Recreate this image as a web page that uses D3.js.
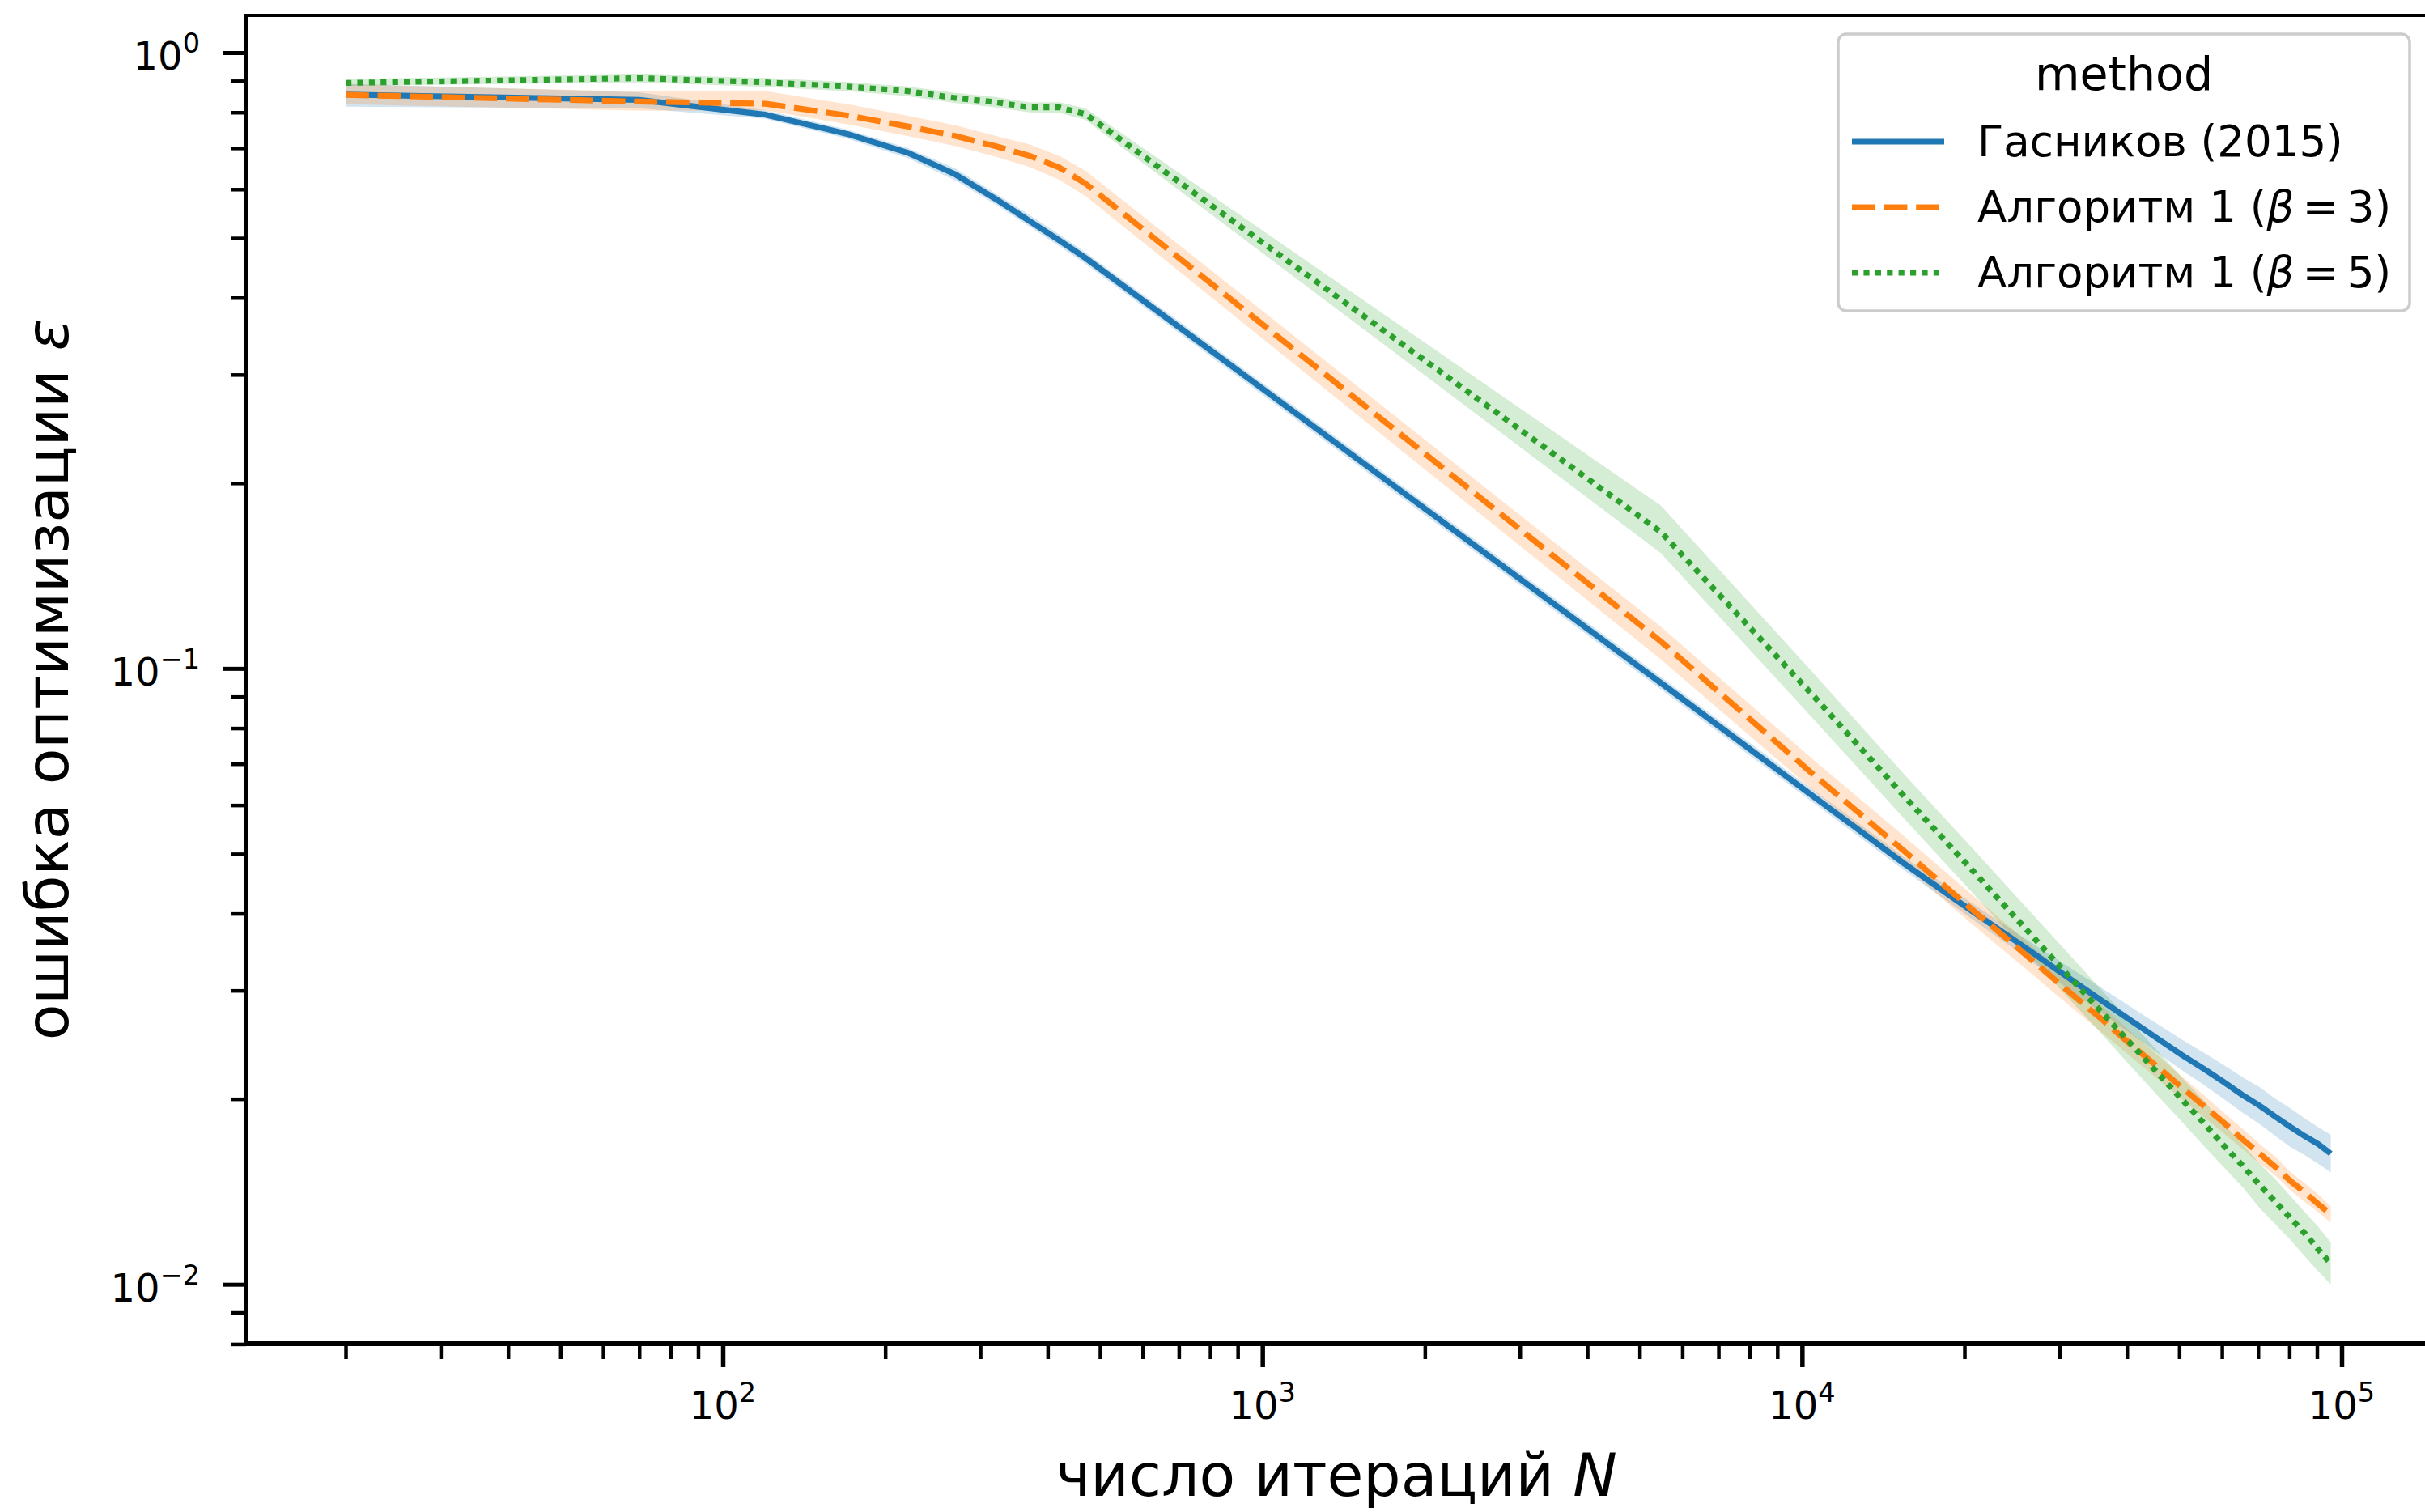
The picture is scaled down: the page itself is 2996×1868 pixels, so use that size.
<!DOCTYPE html>
<html>
<head>
<meta charset="utf-8">
<script src="https://cdnjs.cloudflare.com/ajax/libs/d3/7.8.5/d3.min.js"></script>
<style>
    body { margin: 0; background: #ffffff; }
    text { font-family: "DejaVu Sans", sans-serif; fill: #000000; }
</style>
</head>
<body>
<div id="chart"></div>
<script>
// iterations N (x axis)
var iterations = [20, 70, 120, 170, 220, 270, 320, 370, 420, 470,
    5470, 10470, 15470, 20470, 25470, 30470, 35470, 40470, 45470, 50470,
    55470, 60470, 65470, 70470, 75470, 80470, 85470, 90470, 95470];

// Гасников (2015)
var gasnikovMean = [0.855, 0.838, 0.793, 0.738, 0.688, 0.634, 0.579, 0.533, 0.496, 0.464,
    0.0948, 0.0621, 0.0482, 0.0406, 0.0356, 0.0319, 0.0291, 0.0269, 0.0251, 0.0236,
    0.0224, 0.0213, 0.0203, 0.0195, 0.0187, 0.0180, 0.0174, 0.0169, 0.0163];
var gasnikovLow = [0.817, 0.812, 0.781, 0.725, 0.674, 0.620, 0.567, 0.522, 0.485, 0.454,
    0.0925, 0.0606, 0.0470, 0.0394, 0.0344, 0.0306, 0.0278, 0.0256, 0.0238, 0.0223,
    0.0211, 0.0200, 0.0190, 0.0182, 0.0174, 0.0167, 0.0162, 0.0157, 0.0152];
var gasnikovHigh = [0.890, 0.862, 0.806, 0.750, 0.700, 0.648, 0.591, 0.545, 0.507, 0.474,
    0.0970, 0.0636, 0.0494, 0.0418, 0.0368, 0.0332, 0.0305, 0.0283, 0.0265, 0.0250,
    0.0238, 0.0227, 0.0217, 0.0209, 0.0200, 0.0193, 0.0186, 0.0180, 0.0175];

// Алгоритм 1 (beta = 3)
var beta3Mean = [0.854, 0.833, 0.826, 0.791, 0.759, 0.732, 0.705, 0.680, 0.651, 0.613,
    0.1107, 0.0674, 0.0505, 0.0409, 0.0348, 0.0304, 0.0272, 0.0246, 0.0226, 0.0209,
    0.0195, 0.0183, 0.0172, 0.0163, 0.0155, 0.0147, 0.0141, 0.0135, 0.0130];
var beta3Low = [0.825, 0.805, 0.806, 0.765, 0.732, 0.705, 0.678, 0.652, 0.622, 0.585,
    0.1035, 0.0635, 0.0478, 0.0387, 0.0330, 0.0289, 0.0259, 0.0235, 0.0216, 0.0200,
    0.0187, 0.0176, 0.0166, 0.0157, 0.0150, 0.0142, 0.0136, 0.0131, 0.0126];
var beta3High = [0.888, 0.865, 0.866, 0.825, 0.790, 0.762, 0.733, 0.710, 0.680, 0.643,
    0.1170, 0.0712, 0.0534, 0.0432, 0.0367, 0.0320, 0.0286, 0.0258, 0.0236, 0.0218,
    0.0203, 0.0190, 0.0179, 0.0169, 0.0161, 0.0152, 0.0146, 0.0140, 0.0134];

// Алгоритм 1 (beta = 5)
var beta5Mean = [0.893, 0.909, 0.895, 0.881, 0.866, 0.844, 0.831, 0.815, 0.815, 0.795,
    0.1667, 0.0905, 0.0620, 0.0475, 0.0385, 0.0324, 0.0280, 0.0247, 0.0221, 0.0200,
    0.0183, 0.0168, 0.0156, 0.0145, 0.0136, 0.0128, 0.0121, 0.0114, 0.0108];
var beta5Low = [0.883, 0.895, 0.880, 0.866, 0.850, 0.828, 0.815, 0.800, 0.799, 0.778,
    0.154, 0.0830, 0.0570, 0.0437, 0.0354, 0.0298, 0.0258, 0.0227, 0.0203, 0.0184,
    0.0168, 0.0155, 0.0144, 0.0133, 0.0125, 0.0118, 0.0111, 0.0105, 0.0100];
var beta5High = [0.906, 0.922, 0.910, 0.896, 0.881, 0.860, 0.847, 0.830, 0.831, 0.812,
    0.184, 0.0985, 0.0673, 0.0516, 0.0418, 0.0352, 0.0304, 0.0268, 0.0240, 0.0217,
    0.0199, 0.0182, 0.0169, 0.0157, 0.0148, 0.0139, 0.0131, 0.0124, 0.0117];

var seriesNames = ['Гасников (2015)', 'Алгоритм 1 (β = 3)', 'Алгоритм 1 (β = 5)'];
var seriesColors = ['#1f77b4', '#ff7f0e', '#2ca02c'];
var legendTitle = 'method';

var xTickValues = [1e2, 1e3, 1e4, 1e5];
var xTickExponents = ['2', '3', '4', '5'];
var yTickValues = [1, 0.1, 0.01];
var yTickExponents = ['0', '\u22121', '\u22122'];

var xLabel = 'число итераций ';
var xLabelVar = 'N';
var yLabel = 'ошибка оптимизации ';
var yLabelVar = 'ε';

var width = 2996;
var height = 1868;
var plotLeft = 304, plotTop = 19, plotRight = 2998, plotBottom = 1660;
var lw = 7.2;
var tickFont = 48, labelFont = 73, legendFont = 53, legendTitleFont = 57;

var x = d3.scaleLog().domain([1e2, 1e5]).range([893, 2893]);
var y = d3.scaleLog().domain([1, 0.01]).range([65, 1586.7]);

var series = seriesNames.map(function (name, i) {
    var m = [gasnikovMean, beta3Mean, beta5Mean][i];
    var lo = [gasnikovLow, beta3Low, beta5Low][i];
    var hi = [gasnikovHigh, beta3High, beta5High][i];
    return {
        name: name,
        color: seriesColors[i],
        dash: [null, [4 * lw, 1.5 * lw], [lw, lw]][i],
        values: iterations.map(function (n, j) {
            return {n: n, v: m[j], lo: lo[j], hi: hi[j]};
        })
    };
});

var svg = d3.select('#chart').append('svg')
    .attr('width', width)
    .attr('height', height);

svg.append('defs').append('clipPath')
    .attr('id', 'plotclip')
    .append('rect')
    .attr('x', plotLeft)
    .attr('y', plotTop)
    .attr('width', plotRight - plotLeft)
    .attr('height', plotBottom - plotTop);

var plot = svg.append('g').attr('clip-path', 'url(#plotclip)');

var area = d3.area()
    .x(function (d) { return x(d.n); })
    .y0(function (d) { return y(d.lo); })
    .y1(function (d) { return y(d.hi); });

var line = d3.line()
    .x(function (d) { return x(d.n); })
    .y(function (d) { return y(d.v); });

// bands below lines (like matplotlib zorder)
plot.selectAll('path.band')
    .data(series)
    .enter()
    .append('path')
    .attr('class', 'band')
    .attr('d', function (d) { return area(d.values); })
    .attr('fill', function (d) { return d.color; })
    .attr('fill-opacity', 0.2)
    .attr('stroke', 'none');

plot.selectAll('path.line')
    .data(series)
    .enter()
    .append('path')
    .attr('class', 'line')
    .attr('d', function (d) { return line(d.values); })
    .attr('fill', 'none')
    .attr('stroke', function (d) { return d.color; })
    .attr('stroke-width', lw)
    .attr('stroke-linejoin', 'round')
    .attr('stroke-dasharray', function (d) { return d.dash ? d.dash.join(',') : null; });

// minor ticks from the scales themselves
var xMinor = d3.scaleLog().domain([x.invert(plotLeft), x.invert(plotRight)]).ticks()
    .filter(function (t) { return xTickValues.indexOf(t) < 0; });
var yMinor = d3.scaleLog().domain([y.invert(plotBottom + 1), y.invert(plotTop)]).ticks()
    .filter(function (t) { return yTickValues.indexOf(t) < 0; });

function styleAxis(g, w) {
    g.select('.domain').remove();
    g.selectAll('.tick line').attr('stroke', '#000').attr('stroke-width', w);
    g.selectAll('.tick text').remove();
}

svg.append('g')
    .attr('transform', 'translate(0,' + plotBottom + ')')
    .call(d3.axisBottom(x).tickValues(xTickValues).tickSize(29).tickSizeOuter(0))
    .call(styleAxis, 5.5);
svg.append('g')
    .attr('transform', 'translate(0,' + plotBottom + ')')
    .call(d3.axisBottom(x).tickValues(xMinor).tickSize(19).tickSizeOuter(0))
    .call(styleAxis, 4.5);
svg.append('g')
    .attr('transform', 'translate(' + plotLeft + ',0)')
    .call(d3.axisLeft(y).tickValues(yTickValues).tickSize(29).tickSizeOuter(0))
    .call(styleAxis, 5);
svg.append('g')
    .attr('transform', 'translate(' + plotLeft + ',0)')
    .call(d3.axisLeft(y).tickValues(yMinor).tickSize(19).tickSizeOuter(0))
    .call(styleAxis, 4.5);

// spines
svg.append('line')
    .attr('x1', plotLeft).attr('x2', plotLeft)
    .attr('y1', plotTop - 2).attr('y2', plotBottom + 3)
    .attr('stroke', '#000').attr('stroke-width', 6);
svg.append('line')
    .attr('x1', plotLeft - 3).attr('x2', width)
    .attr('y1', plotBottom).attr('y2', plotBottom)
    .attr('stroke', '#000').attr('stroke-width', 6);
svg.append('line')
    .attr('x1', plotLeft - 3).attr('x2', width)
    .attr('y1', plotTop).attr('y2', plotTop)
    .attr('stroke', '#000').attr('stroke-width', 4);

// tick labels as 10^k
var xLabels = svg.append('g').selectAll('text')
    .data(xTickValues)
    .enter()
    .append('text')
    .attr('x', function (d) { return x(d); })
    .attr('y', 1753)
    .attr('text-anchor', 'middle')
    .style('font-size', tickFont + 'px');
xLabels.append('tspan').text('10');
xLabels.append('tspan')
    .attr('dy', -0.43 * tickFont)
    .style('font-size', (0.7 * tickFont) + 'px')
    .text(function (d, i) { return xTickExponents[i]; });

var yLabels = svg.append('g').selectAll('text')
    .data(yTickValues)
    .enter()
    .append('text')
    .attr('x', 247)
    .attr('y', function (d) { return y(d) + 21; })
    .attr('text-anchor', 'end')
    .style('font-size', tickFont + 'px');
yLabels.append('tspan').text('10');
yLabels.append('tspan')
    .attr('dy', -0.43 * tickFont)
    .style('font-size', (0.7 * tickFont) + 'px')
    .text(function (d, i) { return yTickExponents[i]; });

// axis labels
var xl = svg.append('text')
    .attr('x', (plotLeft + plotRight) / 2)
    .attr('y', 1848)
    .attr('text-anchor', 'middle')
    .style('font-size', labelFont + 'px');
xl.append('tspan').text(xLabel);
xl.append('tspan').style('font-style', 'italic').text(xLabelVar);

var yl = svg.append('text')
    .attr('transform', 'translate(84,' + ((plotTop + plotBottom) / 2) + ') rotate(-90)')
    .attr('text-anchor', 'middle')
    .style('font-size', labelFont + 'px');
yl.append('tspan').text(yLabel);
yl.append('tspan').style('font-style', 'italic').text(yLabelVar);

// legend
var legend = svg.append('g');
legend.append('rect')
    .attr('x', 2271)
    .attr('y', 42)
    .attr('width', 706)
    .attr('height', 342)
    .attr('rx', 10)
    .attr('fill', '#ffffff')
    .attr('fill-opacity', 0.8)
    .attr('stroke', '#cccccc')
    .attr('stroke-width', 3.5);
legend.append('text')
    .attr('x', 2624)
    .attr('y', 111)
    .attr('text-anchor', 'middle')
    .style('font-size', legendTitleFont + 'px')
    .text(legendTitle);

var rows = legend.selectAll('g.row')
    .data(series)
    .enter()
    .append('g')
    .attr('class', 'row')
    .attr('transform', function (d, i) { return 'translate(0,' + (193 + i * 81) + ')'; });
rows.append('line')
    .attr('x1', 2288).attr('x2', 2402)
    .attr('y1', -18).attr('y2', -18)
    .attr('stroke', function (d) { return d.color; })
    .attr('stroke-width', lw)
    .attr('stroke-dasharray', function (d) { return d.dash ? d.dash.join(',') : null; });
var rowText = rows.append('text')
    .attr('x', 2443)
    .attr('y', 0)
    .style('font-size', legendFont + 'px');
rowText.each(function (d) {
    var t = d3.select(this);
    var k = d.name.indexOf('β');
    if (k < 0) { t.text(d.name); return; }
    t.append('tspan').text(d.name.slice(0, k));
    t.append('tspan').style('font-style', 'italic').text('β');
    // math-style thin spacing around "="
    t.append('tspan').text(d.name.slice(k + 1).replace(/ /g, '\u2009'));
});
</script>
</body>
</html>
